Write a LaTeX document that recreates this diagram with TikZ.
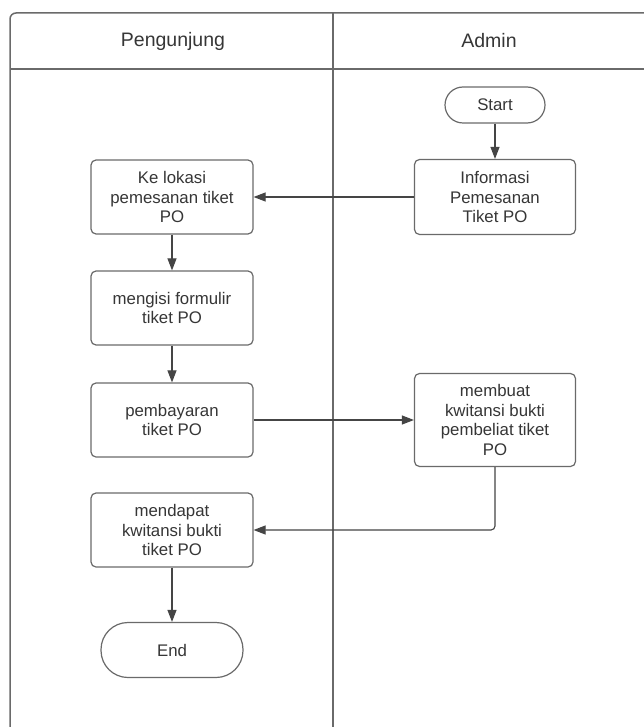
\documentclass[tikz,border=0pt]{standalone}
\usepackage{fontspec}
\setmainfont{Liberation Sans}
\usetikzlibrary{arrows.meta}
\definecolor{edge}{HTML}{6A6A6A}
\definecolor{ink}{HTML}{363636}
\definecolor{wire}{HTML}{454545}
\begin{document}
\begin{tikzpicture}[x=1pt,y=1pt,
  lane/.style={draw=edge,line width=1.5pt},
  proc/.style={draw=edge,line width=1.2pt,rounded corners=5pt,fill=white,
    text=ink,align=center,minimum width=162pt,minimum height=74pt,
    inner sep=2pt,font=\fontsize{16.8}{19.5}\selectfont},
  term/.style={draw=edge,line width=1.2pt,fill=white,text=ink,
    font=\fontsize{16.8}{19.5}\selectfont},
  head/.style={text=ink,font=\fontsize{19.5}{22}\selectfont},
  flow/.style={draw=wire,line width=1.1pt,-{Triangle[length=12pt,width=9pt]}}]
\useasboundingbox (0,0) rectangle (644,-727);
\fill[white] (0,0) rectangle (644,-727);

% swimlane frame
\draw[lane,rounded corners=6pt] (10,-727) -- (10,-13) -- (644,-13);
\draw[lane] (10,-69) -- (644,-69);
\draw[lane] (333,-13) -- (333,-727);
\node[head] (h1) at (173,-41) {Pengunjung};
\node[head] (h2) at (489,-41) {Admin};

% Admin lane
\node[term,rounded corners=18pt,minimum width=100pt,minimum height=36pt] (start) at (495,-105) {Start};
\node[proc,minimum width=161pt,minimum height=75pt] (info) at (495,-197) {Informasi\\Pemesanan\\Tiket PO};
\node[proc,minimum width=161pt,minimum height=93pt] (kwit) at (495,-420) {membuat\\kwitansi bukti\\pembeliat tiket\\PO};

% Pengunjung lane
\node[proc] (lokasi) at (172,-197) {Ke lokasi\\pemesanan tiket\\PO};
\node[proc] (isi) at (172,-308) {mengisi formulir\\tiket PO};
\node[proc] (bayar) at (172,-420) {pembayaran\\tiket PO};
\node[proc] (dapat) at (172,-530) {mendapat\\kwitansi bukti\\tiket PO};
\node[term,rounded corners=27pt,minimum width=142pt,minimum height=55pt] (end) at (172,-650) {End};

% connectors
\draw[flow] (start) -- (info);
\draw[flow] (info) -- (lokasi);
\draw[flow] (lokasi) -- (isi);
\draw[flow] (isi) -- (bayar);
\draw[flow] (bayar) -- (kwit);
\draw[flow,rounded corners=4pt] (kwit.south) |- (dapat.east);
\draw[flow] (dapat) -- (end);
\end{tikzpicture}
\end{document}
